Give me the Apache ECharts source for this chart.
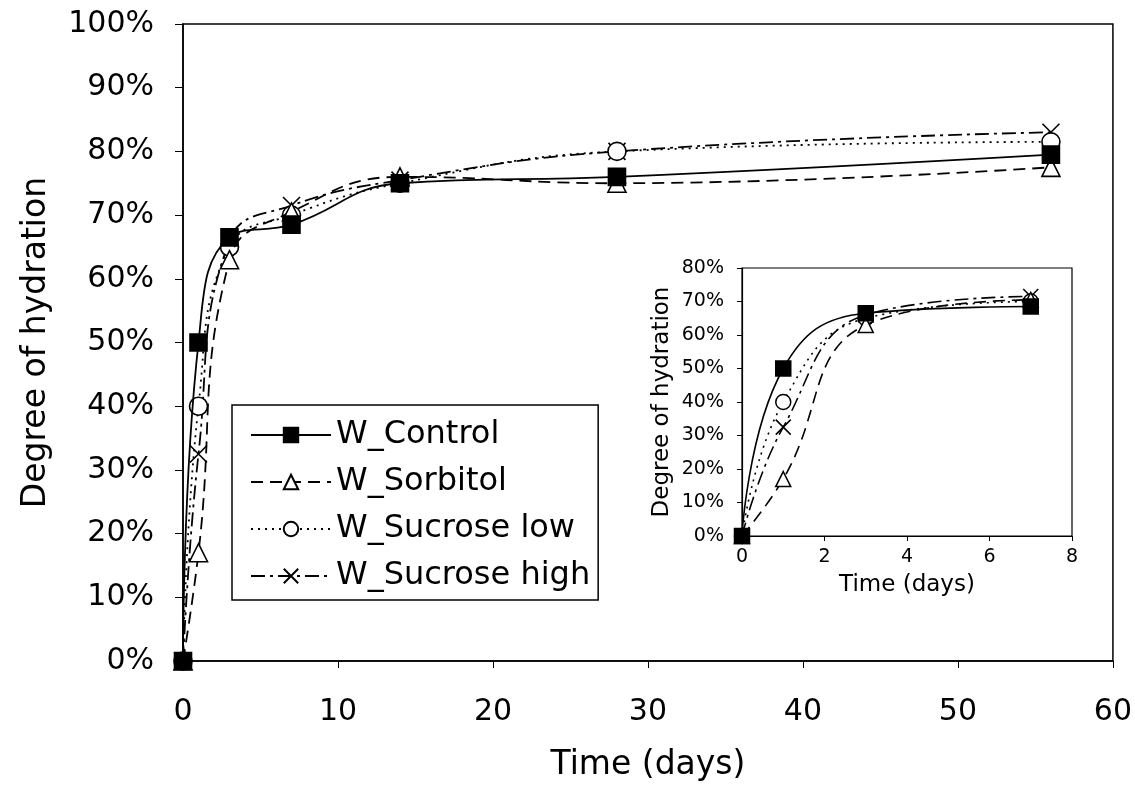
<!DOCTYPE html>
<html><head><meta charset="utf-8">
<script src="https://cdn.jsdelivr.net/npm/echarts@6/dist/echarts.min.js"></script>
<style>html,body{margin:0;padding:0;background:#fff}#c{width:1135px;height:789px}</style>
</head><body><div id="c"></div>
<script>
const days = [0, 1, 3, 7, 14, 28, 56];
const seriesNames = ['W_Control', 'W_Sorbitol', 'W_Sucrose low', 'W_Sucrose high'];
const control = [0, 50, 66.5, 68.5, 75, 76, 79.5];
const sorbitol = [0, 17, 63, 70.5, 76, 75, 77.5];
const sucroseLow = [0, 40, 65, 70, 75, 80, 81.5];
const sucroseHigh = [0, 32.5, 66, 71.5, 75.5, 80, 83];
const insetMaxDay = 7;

const FONT = "'DejaVu Sans', 'Liberation Sans', Arial, sans-serif";
const XPATH = 'path://M0,0L10,10M10,0L0,10';
const styles = [
  {symbol:'rect', fill:'#000', dash:'solid'},
  {symbol:'triangle', fill:'#fff', dash:[12,7]},
  {symbol:'circle', fill:'#fff', dash:[2,5]},
  {symbol:XPATH, fill:'none', dash:[14,5,3,5]}
];
const allData = [control, sorbitol, sucroseLow, sucroseHigh];

function pairs(vals, maxDay){
  const out=[];
  days.forEach((d,i)=>{ if(maxDay===undefined || d<=maxDay) out.push([d, vals[i]]); });
  return out;
}

const series=[];
allData.forEach((vals,k)=>{
  const st=styles[k];
  series.push({
    name: seriesNames[k], type:'line', xAxisIndex:0, yAxisIndex:0,
    data: pairs(vals), smooth:0.45, symbol: st.symbol, symbolSize: k===0?17:(k===3?17:18),
    lineStyle:{color:'#000', width:1.8, type: st.dash},
    itemStyle:{color: st.fill, borderColor:'#000', borderWidth:1.6},
    z: 5-k
  });
  series.push({
    name: seriesNames[k], type:'line', xAxisIndex:1, yAxisIndex:1,
    data: pairs(vals, insetMaxDay), smooth:0.45, symbol: st.symbol, symbolSize: 15,
    lineStyle:{color:'#000', width:1.6, type: st.dash},
    itemStyle:{color: st.fill, borderColor:'#000', borderWidth:1.5},
    z: 5-k
  });
});

const chart = echarts.init(document.getElementById('c'), null, {renderer:'canvas'});
chart.setOption({
  backgroundColor:'#fff',
  animation:false,
  textStyle:{fontFamily:FONT, color:'#000'},
  grid:[
    {left:183, right:22, top:24, bottom:128, show:true, borderColor:'#000', borderWidth:1.5, backgroundColor:'transparent'},
    {left:742, width:330, top:268, height:268, show:true, borderColor:'#000', borderWidth:1.2, backgroundColor:'#fff'}
  ],
  xAxis:[
    {type:'value', gridIndex:0, min:0, max:60, interval:10,
     name:'Time (days)', nameLocation:'middle', nameGap:88,
     nameTextStyle:{fontSize:33, fontFamily:FONT, color:'#000'},
     axisLine:{lineStyle:{color:'#000', width:1.5}}, axisTick:{length:7, lineStyle:{color:'#000'}},
     axisLabel:{fontSize:30, color:'#000', fontFamily:FONT, margin:36}, splitLine:{show:false}},
    {type:'value', gridIndex:1, min:0, max:8, interval:2,
     name:'Time (days)', nameLocation:'middle', nameGap:38,
     nameTextStyle:{fontSize:23, fontFamily:FONT, color:'#000'},
     axisLine:{lineStyle:{color:'#000', width:1.2}}, axisTick:{length:5, lineStyle:{color:'#000'}},
     axisLabel:{fontSize:19, color:'#000', fontFamily:FONT, margin:12}, splitLine:{show:false}}
  ],
  yAxis:[
    {type:'value', gridIndex:0, min:0, max:100, interval:10,
     name:'Degree of hydration', nameLocation:'middle', nameGap:130,
     nameTextStyle:{fontSize:33, fontFamily:FONT, color:'#000'},
     axisLine:{show:true, lineStyle:{color:'#000', width:1.5}}, axisTick:{show:true, length:8, lineStyle:{color:'#000'}},
     axisLabel:{fontSize:30, color:'#000', fontFamily:FONT, margin:29, formatter:'{value}%'}, splitLine:{show:false}},
    {type:'value', gridIndex:1, min:0, max:80, interval:10,
     name:'Degree of hydration', nameLocation:'middle', nameGap:68,
     nameTextStyle:{fontSize:23, fontFamily:FONT, color:'#000'},
     axisLine:{show:true, lineStyle:{color:'#000', width:1.2}}, axisTick:{show:true, length:5, lineStyle:{color:'#000'}},
     axisLabel:{fontSize:19, color:'#000', fontFamily:FONT, margin:18, formatter:'{value}%'}, splitLine:{show:false}}
  ],
  legend:{
    data: seriesNames, orient:'vertical', left:232, top:405,
    backgroundColor:'#fff', borderColor:'#000', borderWidth:1.5,
    padding:[14,8,8,18], itemGap:15, itemWidth:80, itemHeight:18,
    textStyle:{fontSize:32, fontFamily:FONT, color:'#000'},
    selectedMode:false
  },
  series: series
});
</script></body></html>
